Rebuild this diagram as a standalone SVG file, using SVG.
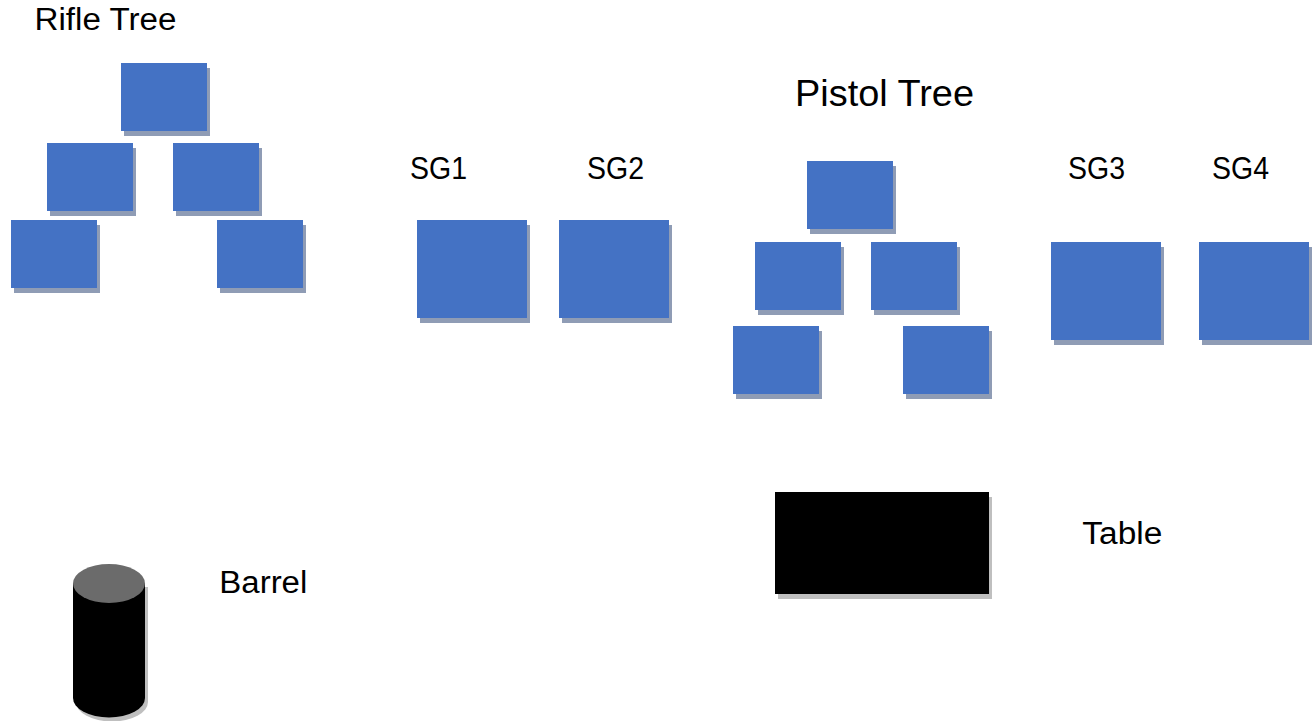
<svg xmlns="http://www.w3.org/2000/svg" width="1315" height="721" viewBox="0 0 1315 721">
  <style>
    .lbl { font-family: "Liberation Sans", Arial, sans-serif; font-size: 31px; fill: #000; }
    .big { font-size: 36px; }
    .box { fill: #4472c4; }
    .sh { fill: #8f9cb5; }
    .gsh { fill: #bfbfbf; }
    .blk { fill: #000; }
  </style>
  <rect width="1315" height="721" fill="#ffffff"/>

  <g id="rifle-tree-label"><text class="lbl" x="34.5" y="29.5" textLength="142" lengthAdjust="spacingAndGlyphs">Rifle Tree</text></g>
  <g id="rifle-1"><rect class="sh" x="124" y="68" width="86" height="68"/><rect class="box" x="121" y="63" width="86" height="68"/></g>
  <g id="rifle-2"><rect class="sh" x="50" y="148" width="86" height="68"/><rect class="box" x="47" y="143" width="86" height="68"/></g>
  <g id="rifle-3"><rect class="sh" x="176" y="148" width="86" height="68"/><rect class="box" x="173" y="143" width="86" height="68"/></g>
  <g id="rifle-4"><rect class="sh" x="14" y="225" width="86" height="68"/><rect class="box" x="11" y="220" width="86" height="68"/></g>
  <g id="rifle-5"><rect class="sh" x="220" y="225" width="86" height="68"/><rect class="box" x="217" y="220" width="86" height="68"/></g>

  <g id="sg1"><text class="lbl" x="410" y="179" textLength="57" lengthAdjust="spacingAndGlyphs">SG1</text><rect class="sh" x="420" y="225" width="110" height="98"/><rect class="box" x="417" y="220" width="110" height="98"/></g>
  <g id="sg2"><text class="lbl" x="587" y="179" textLength="57" lengthAdjust="spacingAndGlyphs">SG2</text><rect class="sh" x="562" y="225" width="110" height="98"/><rect class="box" x="559" y="220" width="110" height="98"/></g>

  <g id="pistol-tree-label"><text class="lbl big" x="795" y="105.7" textLength="179" lengthAdjust="spacingAndGlyphs">Pistol Tree</text></g>
  <g id="pistol-1"><rect class="sh" x="810" y="166" width="86" height="68"/><rect class="box" x="807" y="161" width="86" height="68"/></g>
  <g id="pistol-2"><rect class="sh" x="758" y="247" width="86" height="68"/><rect class="box" x="755" y="242" width="86" height="68"/></g>
  <g id="pistol-3"><rect class="sh" x="874" y="247" width="86" height="68"/><rect class="box" x="871" y="242" width="86" height="68"/></g>
  <g id="pistol-4"><rect class="sh" x="736" y="331" width="86" height="68"/><rect class="box" x="733" y="326" width="86" height="68"/></g>
  <g id="pistol-5"><rect class="sh" x="906" y="331" width="86" height="68"/><rect class="box" x="903" y="326" width="86" height="68"/></g>

  <g id="sg3"><text class="lbl" x="1068" y="179.3" textLength="57" lengthAdjust="spacingAndGlyphs">SG3</text><rect class="sh" x="1054" y="247" width="110" height="98"/><rect class="box" x="1051" y="242" width="110" height="98"/></g>
  <g id="sg4"><text class="lbl" x="1212" y="179.3" textLength="57" lengthAdjust="spacingAndGlyphs">SG4</text><rect class="sh" x="1202" y="247" width="110" height="98"/><rect class="box" x="1199" y="242" width="110" height="98"/></g>

  <g id="table"><rect class="gsh" x="778" y="497" width="214" height="102"/><rect class="blk" x="775" y="492" width="214" height="102"/></g>
  <g id="table-label"><text class="lbl" x="1082.3" y="544" textLength="80" lengthAdjust="spacingAndGlyphs">Table</text></g>

  <g id="barrel">
    <path class="gsh" d="M76,587 L76,702 A36,19.5 0 0 0 148,702 L148,587 Z"/>
    <path class="blk" d="M73,583 L73,698 A36,19.5 0 0 0 145,698 L145,583 Z"/>
    <ellipse cx="109" cy="583.5" rx="36" ry="19.5" fill="#6b6b6b"/>
  </g>
  <g id="barrel-label"><text class="lbl" x="219.3" y="593.3" textLength="88" lengthAdjust="spacingAndGlyphs">Barrel</text></g>

  <g id="connectors"></g>
</svg>
